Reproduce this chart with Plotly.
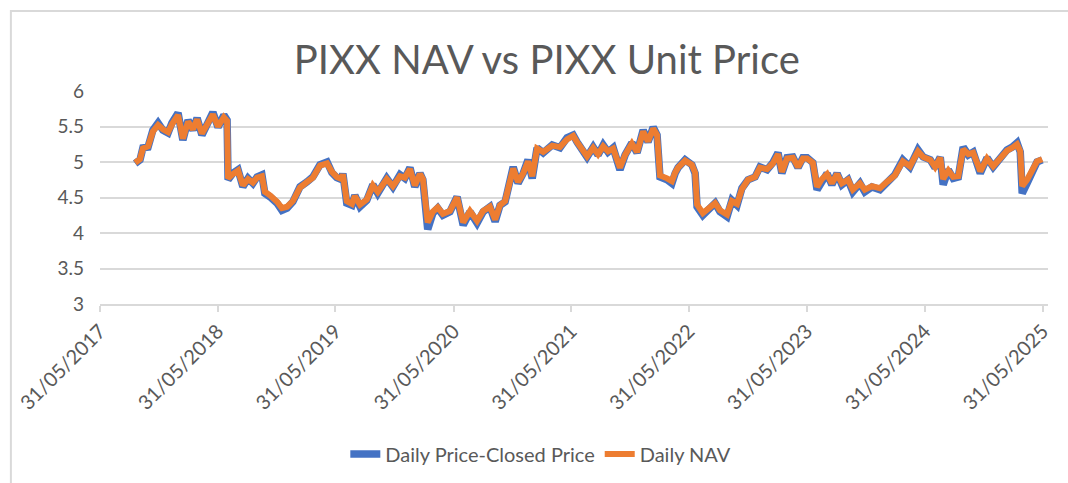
import plotly.graph_objects as go

dates = [
    "2017-09-17", "2017-10-02", "2017-10-11", "2017-10-27", "2017-11-11", "2017-11-27", "2017-12-12", "2017-12-28",
    "2018-01-09", "2018-01-28", "2018-02-12", "2018-02-28", "2018-03-15", "2018-03-28", "2018-04-12", "2018-04-28", "2018-05-16",
    "2018-06-01", "2018-06-19", "2018-06-29", "2018-07-02", "2018-07-17", "2018-08-02", "2018-08-17", "2018-09-02", "2018-09-17",
    "2018-09-30", "2018-10-15", "2018-10-24", "2018-11-09", "2018-12-01", "2018-12-16",
    "2019-01-01", "2019-01-19", "2019-02-10", "2019-03-04", "2019-03-22", "2019-04-13", "2019-05-05", "2019-05-20",
    "2019-06-04", "2019-06-20", "2019-06-23", "2019-07-05", "2019-07-21", "2019-07-30", "2019-08-15", "2019-09-05", "2019-09-24",
    "2019-10-09", "2019-11-06", "2019-11-25", "2019-12-17",
    "2020-01-01", "2020-01-17", "2020-02-01", "2020-02-17", "2020-02-26", "2020-03-12", "2020-03-28", "2020-04-12", "2020-04-28", "2020-05-20",
    "2020-06-11", "2020-06-30", "2020-07-21", "2020-08-12", "2020-08-31", "2020-09-21", "2020-10-07", "2020-10-22", "2020-11-07",
    "2020-11-22", "2020-12-02", "2020-12-17",
    "2021-01-02", "2021-01-17", "2021-01-30", "2021-02-14", "2021-03-05", "2021-04-02", "2021-04-26", "2021-05-18",
    "2021-06-06", "2021-06-18", "2021-07-07", "2021-07-19", "2021-08-07", "2021-08-22", "2021-09-07", "2021-09-22", "2021-10-08",
    "2021-10-29", "2021-11-14", "2021-12-05", "2021-12-21",
    "2022-01-09", "2022-01-24", "2022-02-09", "2022-02-21", "2022-03-02", "2022-03-24", "2022-04-08", "2022-04-18", "2022-04-27", "2022-05-19",
    "2022-06-09", "2022-06-19", "2022-06-25", "2022-07-13", "2022-08-04", "2022-08-20", "2022-09-04", "2022-09-26", "2022-10-11",
    "2022-10-27", "2022-11-11", "2022-11-30", "2022-12-22",
    "2023-01-06", "2023-01-28", "2023-02-15", "2023-03-03", "2023-03-15", "2023-03-31", "2023-04-18", "2023-05-04", "2023-05-19",
    "2023-06-01", "2023-06-19", "2023-07-02", "2023-07-17", "2023-08-02", "2023-08-17", "2023-09-02", "2023-09-17", "2023-10-06",
    "2023-10-21", "2023-11-12", "2023-11-27", "2023-12-19",
    "2024-01-13", "2024-02-04", "2024-02-28", "2024-03-24", "2024-04-15", "2024-05-10", "2024-05-26",
    "2024-06-17", "2024-07-02", "2024-07-18", "2024-07-27", "2024-08-12", "2024-08-27", "2024-09-12", "2024-09-27", "2024-10-13",
    "2024-10-28", "2024-11-19", "2024-12-10", "2024-12-29",
    "2025-01-20", "2025-02-10", "2025-02-26", "2025-03-13", "2025-03-23", "2025-03-29", "2025-04-13", "2025-04-29", "2025-05-14", "2025-05-30",
]

price = [
    4.98, 5.03, 5.20, 5.21, 5.45, 5.55, 5.45, 5.41,
    5.55, 5.69, 5.31, 5.59, 5.45, 5.62, 5.38, 5.55, 5.70,
    5.49, 5.66, 5.59, 4.75, 4.84, 4.89, 4.65, 4.77, 4.70, 4.79, 4.82, 4.56, 4.51, 4.42, 4.32,
    4.35, 4.44, 4.65, 4.72, 4.79, 4.96, 5.00, 4.85,
    4.78, 4.75, 4.84, 4.42, 4.39, 4.53, 4.37, 4.46, 4.68, 4.56, 4.77, 4.65, 4.82,
    4.77, 4.92, 4.65, 4.84, 4.75, 4.05, 4.28, 4.35, 4.25, 4.30,
    4.51, 4.11, 4.30, 4.14, 4.30, 4.37, 4.16, 4.39, 4.44, 4.79, 4.93, 4.70,
    4.84, 5.03, 4.77, 5.20, 5.13, 5.24, 5.20, 5.34,
    5.38, 5.28, 5.14, 5.07, 5.21, 5.10, 5.24, 5.14, 5.20, 4.89, 5.10, 5.27, 5.13,
    5.45, 5.28, 5.49, 5.38, 4.79, 4.75, 4.70, 4.84, 4.92, 5.03,
    4.96, 4.84, 4.37, 4.25, 4.35, 4.42, 4.30, 4.23, 4.46, 4.39, 4.63, 4.75, 4.79,
    4.93, 4.89, 4.99, 5.13, 4.84, 5.06, 5.07, 4.92, 5.06,
    5.06, 4.99, 4.61, 4.75, 4.84, 4.68, 4.84, 4.68, 4.75, 4.58, 4.70, 4.58, 4.65,
    4.61, 4.72, 4.82, 5.03, 4.93, 5.17, 5.07,
    5.03, 4.92, 5.07, 4.68, 4.89, 4.77, 4.79, 5.21, 5.10, 5.14, 4.84, 5.06, 4.93,
    5.07, 5.17, 5.21, 5.27, 5.14, 4.56, 4.70, 4.84, 5.00, 5.03,
]

nav = [
    4.99, 5.04, 5.19, 5.22, 5.43, 5.52, 5.46, 5.42,
    5.53, 5.66, 5.33, 5.57, 5.46, 5.60, 5.40, 5.54, 5.67,
    5.50, 5.63, 5.58, 4.77, 4.83, 4.88, 4.67, 4.76, 4.71, 4.78, 4.80, 4.58, 4.53, 4.44, 4.35,
    4.37, 4.45, 4.64, 4.72, 4.78, 4.95, 4.98, 4.86,
    4.79, 4.76, 4.83, 4.45, 4.41, 4.52, 4.40, 4.47, 4.67, 4.58, 4.76, 4.66, 4.80,
    4.78, 4.90, 4.67, 4.83, 4.76, 4.15, 4.30, 4.36, 4.27, 4.31,
    4.50, 4.15, 4.31, 4.17, 4.31, 4.37, 4.19, 4.39, 4.45, 4.78, 4.91, 4.72,
    4.84, 5.01, 4.80, 5.19, 5.14, 5.23, 5.21, 5.32,
    5.37, 5.28, 5.16, 5.08, 5.20, 5.11, 5.22, 5.15, 5.19, 4.92, 5.10, 5.26, 5.14,
    5.43, 5.29, 5.47, 5.38, 4.81, 4.77, 4.73, 4.85, 4.92, 5.02,
    4.96, 4.85, 4.40, 4.28, 4.36, 4.42, 4.32, 4.26, 4.45, 4.41, 4.62, 4.75, 4.79,
    4.92, 4.90, 4.98, 5.11, 4.86, 5.05, 5.06, 4.93, 5.05,
    5.05, 4.99, 4.65, 4.76, 4.83, 4.70, 4.83, 4.70, 4.75, 4.61, 4.70, 4.61, 4.66,
    4.63, 4.72, 4.81, 5.01, 4.94, 5.15, 5.07,
    5.03, 4.93, 5.06, 4.76, 4.88, 4.79, 4.80, 5.18, 5.11, 5.13, 4.87, 5.05, 4.94,
    5.07, 5.16, 5.20, 5.25, 5.15, 4.66, 4.75, 4.87, 5.01, 5.04,
]

tick_dates = ["2017-05-31", "2018-05-31", "2019-05-31", "2020-05-31", "2021-05-31",
              "2022-05-31", "2023-05-31", "2024-05-31", "2025-05-31"]
tick_labels = ["31/05/2017", "31/05/2018", "31/05/2019", "31/05/2020", "31/05/2021",
               "31/05/2022", "31/05/2023", "31/05/2024", "31/05/2025"]

FONT = "Lato, 'Open Sans', sans-serif"
GREY = "#595959"
GRID = "#D9D9D9"

fig = go.Figure()
fig.add_trace(go.Scatter(x=dates, y=price, mode="lines", name="Daily Price-Closed Price",
                         line=dict(color="#4472C4", width=7.5)))
fig.add_trace(go.Scatter(x=dates, y=nav, mode="lines", name="Daily NAV",
                         line=dict(color="#ED7D31", width=6)))

fig.update_layout(
    width=1068, height=483,
    margin=dict(l=100, r=20, t=91, b=179, autoexpand=False),
    paper_bgcolor="white", plot_bgcolor="white",
    font=dict(family=FONT, color=GREY, size=20),
    title=dict(text="PIXX NAV vs PIXX Unit Price", x=0.512, xanchor="center",
               y=0.876, yref="container", yanchor="middle",
               font=dict(family=FONT, size=40, color=GREY)),
    showlegend=True,
    legend=dict(orientation="h", x=0.465, xanchor="center", y=-0.704, yanchor="middle",
                font=dict(size=20, color=GREY), bgcolor="rgba(0,0,0,0)"),
    shapes=[dict(type="rect", xref="paper", yref="paper",
                 x0=-0.094, x1=1.03, y0=-0.9, y1=1.376,
                 line=dict(color=GRID, width=2), fillcolor="rgba(0,0,0,0)", layer="below")],
)

fig.update_xaxes(
    type="date", range=["2017-05-31", "2025-06-17"], automargin=False,
    tickmode="array", tickvals=tick_dates, ticktext=tick_labels,
    tickangle=-45, tickfont=dict(size=20, color=GREY),
    showgrid=False, showline=True, linecolor=GRID, linewidth=1.5,
    ticks="outside", ticklen=6, tickcolor=GRID, tickwidth=1.5, zeroline=False,
)
fig.update_yaxes(
    range=[3, 6], dtick=0.5, tick0=3, automargin=False,
    showgrid=True, gridcolor=GRID, gridwidth=1.5,
    showline=False, zeroline=False, ticks="",
    tickfont=dict(size=19, color=GREY), ticklabelstandoff=15,
)

fig.write_html("out.html", config={"displayModeBar": False},
               post_script="document.body.style.margin='0';document.body.style.overflow='hidden';")
